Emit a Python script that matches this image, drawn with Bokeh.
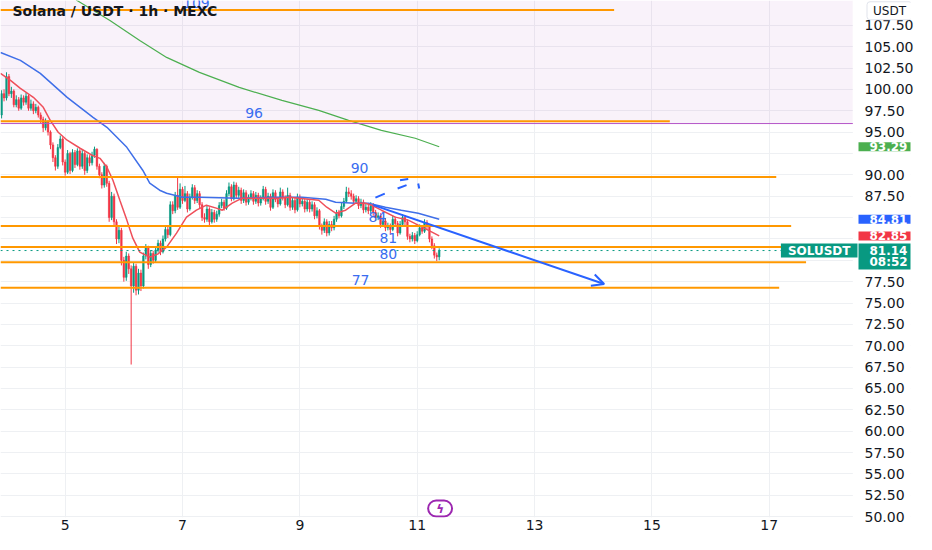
from bokeh.plotting import figure
from bokeh.models import (FixedTicker, NumeralTickFormatter, BoxAnnotation,
                          Label, Arrow, OpenHead, ColumnDataSource)
from bokeh.core.properties import value
from bokeh.embed import file_html
from bokeh.resources import INLINE

# ---------------- data ----------------
first_open = 97.0
closes = [
    99.5, 99.0, 101.5, 99.5, 99.8, 98.2, 98.8, 97.8, 99.0, 98.5, 99.2, 97.8,
    98.3, 97.5, 97.9, 97.0, 96.5, 95.5, 96.2, 95.0, 93.5, 92.0, 91.0, 93.2,
    94.2, 91.5, 90.3, 92.5, 90.5, 92.6, 91.2, 92.8, 91.0, 92.5, 90.5, 92.0,
    91.4, 92.3, 93.0, 91.0, 90.0, 88.8, 91.0, 89.0, 85.0, 87.5, 84.5, 82.5,
    83.5, 80.0, 78.0, 80.5, 79.0, 77.0, 79.3, 76.5, 78.5, 77.0, 80.5, 81.5,
    79.5, 80.8, 80.0, 81.2, 82.0, 81.0, 82.5, 83.6, 83.0, 86.5, 85.8, 87.6,
    86.2, 88.3, 87.0, 87.8, 86.0, 87.4, 88.5, 87.0, 87.8, 86.5, 85.0, 84.8,
    86.0, 84.5, 85.6, 84.8, 85.4, 86.4, 86.8, 86.1, 87.8, 88.6, 87.2, 88.8,
    87.6, 88.2, 87.0, 87.9, 86.8, 87.3, 87.8, 86.9, 87.6, 86.7, 87.2, 88.3,
    86.9, 87.5, 86.2, 87.9, 87.1, 86.6, 88.0, 87.3, 86.5, 87.6, 86.2, 87.0,
    85.9, 87.4, 86.6, 86.9, 86.0, 86.8, 86.0, 86.5, 85.2, 85.8, 84.0, 83.5,
    84.5, 83.2, 84.2, 83.8, 84.8, 85.5, 85.2, 86.3, 86.9, 88.0, 87.8, 87.5,
    86.9, 87.2, 86.4, 86.8, 85.9, 86.2, 85.8, 86.4, 85.6, 85.0, 85.2, 84.2,
    84.6, 83.8, 84.0, 83.6, 84.8, 84.3, 83.2, 84.2, 85.0, 84.5, 82.8, 82.5,
    82.9, 82.3, 83.0, 83.8, 83.4, 84.4, 84.0, 82.5, 81.7, 80.6, 80.4, 81.14,
]
highs = [
    99.9, 100.0, 102.0, 101.8, 100.3, 100.0, 99.3, 99.1, 99.4, 99.3, 99.6, 99.4,
    98.8, 98.6, 98.3, 98.1, 97.3, 96.8, 96.6, 96.4, 95.2, 93.8, 92.3, 93.6,
    94.6, 94.4, 91.8, 92.9, 92.7, 93.0, 92.9, 93.1, 93.0, 92.9, 92.7, 92.4,
    92.3, 92.7, 93.3, 93.1, 91.3, 90.3, 91.4, 91.2, 89.3, 88.0, 87.8, 84.8,
    84.0, 83.8, 80.4, 81.0, 80.8, 79.4, 79.8, 79.6, 79.0, 78.9, 80.9, 81.9,
    81.7, 81.2, 81.1, 81.6, 82.4, 82.3, 82.9, 84.0, 84.0, 86.9, 86.9, 88.0,
    89.7, 89.0, 88.6, 88.7, 88.1, 87.8, 88.9, 88.8, 88.2, 88.1, 86.8, 85.5,
    86.4, 86.2, 86.0, 85.9, 85.8, 86.8, 87.2, 87.1, 88.2, 89.1, 88.9, 89.2,
    89.1, 88.6, 88.5, 88.3, 88.2, 87.7, 88.2, 88.1, 88.0, 87.9, 87.6, 88.7,
    88.6, 87.9, 87.8, 88.3, 88.2, 87.4, 88.5, 88.3, 87.6, 88.5, 87.9, 87.4,
    87.3, 87.8, 87.7, 87.3, 87.2, 87.2, 87.1, 86.9, 86.8, 86.2, 86.0, 84.3,
    84.9, 84.8, 84.6, 84.6, 85.2, 85.9, 85.9, 86.7, 87.3, 88.6, 88.5, 88.2,
    87.8, 87.6, 87.5, 87.2, 87.1, 86.6, 86.5, 86.8, 86.7, 85.9, 85.6, 85.5,
    85.0, 84.9, 84.4, 84.3, 85.2, 85.1, 84.6, 84.6, 85.4, 85.3, 84.8, 83.1,
    83.3, 83.2, 83.4, 84.2, 84.1, 84.8, 84.7, 84.2, 82.8, 82.0, 80.9, 81.4,
]
lows = [
    96.6, 98.6, 98.7, 99.2, 99.0, 97.9, 97.9, 97.5, 97.6, 98.1, 98.2, 97.5,
    97.5, 97.1, 97.2, 96.7, 96.0, 95.0, 95.2, 94.6, 93.0, 91.5, 90.5, 90.7,
    93.0, 91.1, 89.9, 90.1, 90.1, 90.3, 90.8, 91.0, 90.6, 90.7, 90.0, 90.2,
    91.0, 91.1, 92.0, 90.6, 89.6, 88.4, 88.5, 88.6, 84.5, 84.7, 84.0, 81.9,
    82.0, 79.4, 77.5, 77.6, 78.4, 67.8, 76.2, 75.9, 76.0, 76.4, 76.7, 80.1,
    79.0, 79.2, 79.6, 79.7, 80.9, 80.6, 80.8, 82.2, 82.6, 82.8, 85.4, 85.5,
    85.9, 86.0, 86.6, 86.8, 85.6, 85.8, 87.1, 86.6, 86.7, 86.1, 84.6, 84.4,
    84.5, 84.1, 84.3, 84.4, 84.5, 85.1, 86.1, 85.8, 85.9, 87.5, 86.9, 87.0,
    87.2, 87.3, 86.6, 86.7, 86.4, 86.5, 87.0, 86.5, 86.6, 86.3, 86.4, 87.0,
    86.5, 86.6, 85.8, 86.0, 86.8, 86.2, 86.4, 87.0, 86.1, 86.3, 85.8, 85.9,
    85.5, 85.7, 86.2, 86.3, 85.6, 85.7, 85.6, 85.7, 84.8, 84.9, 83.6, 83.0,
    83.2, 82.8, 82.9, 83.4, 83.5, 84.5, 84.9, 85.0, 86.0, 86.7, 87.4, 87.1,
    86.5, 86.6, 86.0, 86.1, 85.5, 85.6, 85.4, 85.5, 85.2, 84.6, 84.7, 83.8,
    83.9, 83.4, 83.5, 83.0, 83.4, 84.0, 82.8, 83.0, 84.0, 84.1, 82.4, 82.1,
    82.2, 81.9, 82.1, 82.8, 83.1, 83.2, 83.6, 82.1, 81.3, 80.2, 79.9, 80.0,
]
hours_from_day5 = list(range(-26, 154))   # hourly candles, 0 = day 5 00:00

# moving averages (day, price)
ma_fast_days = [3.898, 4.068, 4.237, 4.458, 4.627, 4.746, 4.881, 5.034, 5.254, 5.458,
                5.593, 5.712, 5.814, 5.932, 6.051, 6.153, 6.271, 6.441, 6.576, 6.729,
                6.898, 7.068, 7.237, 7.407, 7.576, 7.678, 7.847, 8.017, 8.305, 8.644,
                8.814, 9.322, 9.458, 9.610, 9.780, 9.949, 10.119, 10.220, 10.390,
                10.627, 10.847, 11.017, 11.186, 11.375]
ma_fast_vals = [101.87, 101.05, 100.12, 99.07, 97.90, 96.38, 94.98, 94.05, 93.11, 92.29,
                91.93, 90.89, 89.37, 87.03, 84.70, 82.59, 80.96, 80.37, 80.72, 81.54,
                83.18, 85.05, 85.86, 86.45, 86.10, 85.86, 86.68, 87.27, 87.27, 87.27,
                87.38, 87.03, 86.21, 85.51, 85.86, 86.68, 86.68, 86.45, 85.86,
                85.05, 84.70, 84.11, 83.53, 82.85]
ma_mid_days = [3.898, 4.237, 4.576, 5.034, 5.475, 5.712, 6.051, 6.322, 6.441, 6.610,
               6.729, 7.0, 7.288, 7.966, 8.644, 9.034, 9.441, 9.610, 9.949, 10.169,
               10.458, 10.729, 11.017, 11.375]
ma_mid_vals = [104.32, 103.39, 101.87, 99.07, 96.73, 95.56, 93.22, 90.54, 89.02, 88.20,
               87.85, 87.38, 87.38, 87.27, 87.38, 87.38, 87.15, 86.79, 86.68, 86.68,
               86.21, 85.86, 85.51, 84.81]
ma_slow_days = [5.1, 5.203, 5.763, 6.271, 6.729, 7.288, 7.966, 8.695, 9.322, 9.831,
                10.390, 10.966, 11.375]
ma_slow_vals = [111.1, 110.40, 108.06, 105.72, 103.74, 101.99, 100.23, 98.71, 97.55,
                96.38, 95.21, 94.28, 93.29]

# horizontal levels drawn on chart
level_prices = [109.3, 96.26, 89.74, 84.0, 81.56, 79.77, 76.78]
level_end_days = [14.356, 15.305, 17.119, 17.373, 17.593, 17.627, 17.169]
level_texts = ["109", "96", "90", "84", "81", "80", "77"]
level_text_days = [7.237, 8.22, 10.017, 10.322, 10.508, 10.508, 10.034]
level_text_prices = [110.05, 97.20, 90.77, 85.05, 82.55, 80.72, 77.69]
zone_level = 96.0

# drawn trend arrow and dashes
trend_start = (10.254, 86.45)
trend_end = (14.186, 77.22)
dash_x0 = [10.288, 10.666, 10.707, 11.017]
dash_y0 = [87.34, 88.40, 89.37, 88.98]
dash_x1 = [10.447, 10.818, 10.847, 11.034]
dash_y1 = [87.80, 88.79, 89.52, 88.40]

price_ticks = [50.0, 52.5, 55.0, 57.5, 60.0, 62.5, 65.0, 67.5, 70.0, 72.5, 75.0, 77.5,
               80.0, 82.5, 85.0, 87.5, 90.0, 92.5, 95.0, 97.5, 100.0, 102.5, 105.0, 107.5]
hidden_ticks = [92.5, 85.0, 82.5, 80.0]   # covered by the price tags
day_ticks = [5, 7, 9, 11, 13, 15, 17]

last_price = 81.14
countdown = "08:52"
tag_values = [(93.29, "#4caf50"), (84.81, "#2962ff"), (82.85, "#f23645")]
event_day = 11.39

# ---------------- layout constants ----------------
X_START, X_END = 3.898, 19.407      # visible days (chart + price-scale strip)
SCALE_START = 18.424                # day where the price-scale strip begins
Y_TOP, Y_BOTTOM = 110.4, 49.9
TITLE_Y = 109.2

GREEN = "#089981"
RED = "#f23645"
FONT = "DejaVu Sans"

p = figure(width=916, height=534, x_range=(X_START, X_END), y_range=(Y_BOTTOM, Y_TOP),
           y_axis_location="right", output_backend="svg", toolbar_location=None,
           min_border_left=0, min_border_top=0, min_border_right=1, min_border_bottom=17,
           outline_line_color=None, background_fill_color="white", border_fill_color="white")

# pink zone and white price-scale strip
p.add_layout(BoxAnnotation(bottom=zone_level, right=SCALE_START, fill_color="#9c27b0",
                           fill_alpha=0.06, line_color=None, level="underlay"))
p.add_layout(BoxAnnotation(left=SCALE_START, fill_color="white", fill_alpha=1.0,
                           line_color=None, level="underlay"))

opens = [first_open] + closes[:-1]
days = [5 + h / 24 for h in hours_from_day5]
colors = [GREEN if c >= o else RED for o, c in zip(opens, closes)]
src = ColumnDataSource(dict(x=days, h=highs, l=lows,
                            top=[max(o, c) for o, c in zip(opens, closes)],
                            bottom=[min(o, c) for o, c in zip(opens, closes)],
                            color=colors))
p.segment(x0="x", y0="l", x1="x", y1="h", line_color="color", line_width=1, source=src)
p.vbar(x="x", width=0.028, top="top", bottom="bottom", fill_color="color",
       line_color="color", line_width=0.5, source=src)

p.line(ma_slow_days, ma_slow_vals, line_color="#4caf50", line_width=1.2)
p.line(ma_mid_days, ma_mid_vals, line_color="#3f6fe8", line_width=1.5)
p.line(ma_fast_days, ma_fast_vals, line_color="#ef4f5a", line_width=1.5)

# zone border and last-price dotted line
p.segment(x0=[X_START], y0=[zone_level], x1=[SCALE_START], y1=[zone_level],
          line_color="#b454c8", line_width=1)
p.segment(x0=[X_START], y0=[last_price], x1=[SCALE_START], y1=[last_price],
          line_color=GREEN, line_width=1, line_dash="dotted")

p.segment(x0=[X_START] * len(level_prices), y0=level_prices, x1=level_end_days,
          y1=level_prices, line_color="#ff9800", line_width=2)

p.text(x=level_text_days, y=level_text_prices, text=level_texts, text_font=value(FONT),
       text_font_size="14px", text_color="#3a6df0", text_align="center", text_baseline="middle")

p.add_layout(Arrow(x_start=trend_start[0], y_start=trend_start[1], x_end=trend_end[0],
                   y_end=trend_end[1], line_color="#2962ff", line_width=2,
                   end=OpenHead(size=12, line_color="#2962ff", line_width=2)))
p.segment(x0=dash_x0, y0=dash_y0, x1=dash_x1, y1=dash_y1, line_color="#2962ff", line_width=2)

# axes
p.yaxis.ticker = FixedTicker(ticks=price_ticks)
p.yaxis.formatter = NumeralTickFormatter(format="0.00")
p.yaxis.major_label_overrides = {t: "" for t in hidden_ticks}
p.xaxis.ticker = FixedTicker(ticks=day_ticks)
for ax in (p.xaxis[0], p.yaxis[0]):
    ax.axis_line_color = None
    ax.major_tick_line_color = None
    ax.minor_tick_line_color = None
    ax.major_tick_out = 0
    ax.major_tick_in = 0
    ax.minor_tick_out = 0
    ax.major_label_text_font = FONT
    ax.major_label_text_font_size = "14px"
    ax.major_label_text_color = "#131722"
p.yaxis.major_label_standoff = -46
p.xaxis.major_label_standoff = 2
p.xgrid.grid_line_color = "#eef0f3"
p.ygrid.grid_line_color = "#eef0f3"

# title
p.add_layout(Label(x=12, y=TITLE_Y, x_units="screen", text="Solana / USDT · 1h · MEXC",
                   text_font=FONT, text_font_size="14px", text_font_style="bold",
                   text_color="#131722", text_baseline="middle"))

# price scale header
p.add_layout(Label(x=889, y=TITLE_Y, x_units="screen", text="USDT", text_font=FONT,
                   text_font_size="12px", text_color="#131722", text_align="center",
                   text_baseline="middle", background_fill_color="white",
                   border_line_color="#e0e3eb", border_radius=3, level="overlay",
                   padding=dict(left=6, right=6, top=2, bottom=2)))

# price tags on the scale
for val, col in tag_values:
    p.add_layout(Label(x=858, y=val, x_units="screen", text=f"{val:.2f}", text_font=FONT,
                       text_font_size="12px", text_font_style="bold", text_color="white",
                       text_baseline="middle", background_fill_color=col, level="overlay",
                       padding=dict(left=11, right=11, top=0, bottom=0)))
p.add_layout(Label(x=858, y=last_price, y_offset=-6, x_units="screen",
                   text=f"{last_price:.2f}\n{countdown}", text_font=FONT,
                   text_font_size="12px", text_font_style="bold", text_color="white",
                   text_line_height=0.85, text_baseline="middle", background_fill_color=GREEN,
                   level="overlay", padding=dict(left=11, right=11, top=0, bottom=0)))
p.add_layout(Label(x=857, y=last_price, x_units="screen", text="SOLUSDT", text_font=FONT,
                   text_font_size="12px", text_font_style="bold", text_color="white",
                   text_align="right", text_baseline="middle", background_fill_color=GREEN,
                   level="overlay", padding=dict(left=7, right=7, top=0, bottom=0)))

# event marker
p.add_layout(Label(x=event_day, y=9, y_units="screen", text="ϟ", text_font=FONT,
                   text_font_size="12px", text_font_style="bold", text_color="#9c27b0",
                   text_align="center", text_baseline="middle", background_fill_color="white",
                   border_line_color="#9c27b0", border_line_width=2, border_radius=9,
                   padding=dict(left=8, right=8, top=1, bottom=1)))

open("out.html", "w").write(file_html(p, INLINE))
